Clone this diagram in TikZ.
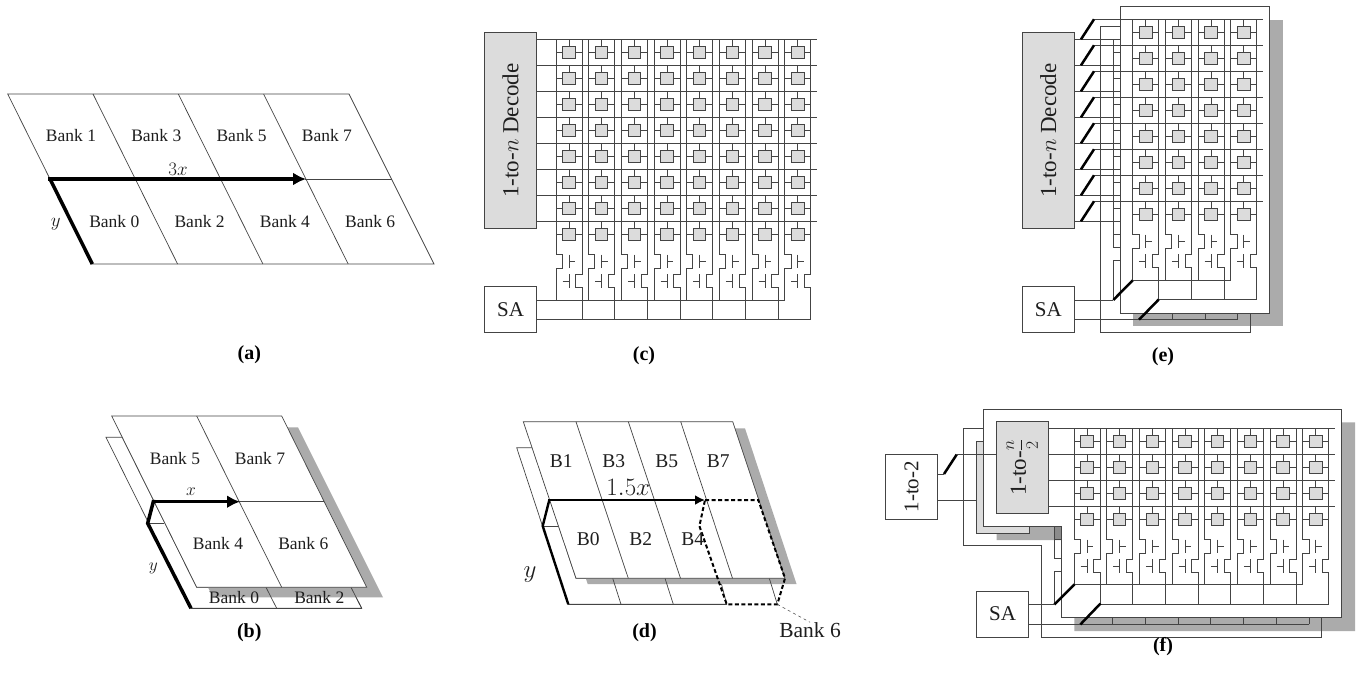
\documentclass[tikz,border=0pt]{standalone}
\usepackage{fix-cm}
\usepackage{fontspec}
\setmainfont{Liberation Serif}
\usetikzlibrary{arrows.meta}
\definecolor{wirec}{HTML}{444444}
\definecolor{shadowc}{HTML}{ABABAB}
\definecolor{darkshadow}{HTML}{8C8C8C}
\definecolor{cellc}{HTML}{DCDCDC}
\definecolor{textc}{HTML}{1E1E1E}
\tikzset{
  wire/.style={draw=wirec,line width=1pt},
  thinwire/.style={draw=wirec,line width=0.7pt},
  slash/.style={draw=black,line width=2.5pt},
  shadowfill/.style={fill=shadowc,draw=none},
  platefill/.style={fill=white,draw=wirec,line width=1pt},
  cellbox/.style={draw=wirec,fill=cellc,line width=1pt,inner sep=0pt,minimum width=12.6pt,minimum height=12.3pt},
  decbox/.style={draw=wirec,fill=cellc,line width=1pt,inner sep=0pt,text=textc,font=\fontsize{23}{25}\selectfont},
  whitebox/.style={draw=wirec,fill=white,line width=1pt,inner sep=0pt,text=textc,font=\fontsize{21}{24}\selectfont},
  banklab/.style={inner sep=0pt,text=textc,font=\fontsize{17.5}{20}\selectfont},
  mathlab/.style={inner sep=0pt,text=textc,font=\fontsize{19}{22}\selectfont},
  blab/.style={inner sep=0pt,text=textc,font=\fontsize{19.5}{22}\selectfont},
  biglab/.style={inner sep=0pt,text=textc,font=\fontsize{21.5}{24}\selectfont},
  hugelab/.style={inner sep=0pt,text=textc,font=\fontsize{25}{28}\selectfont},
  caplab/.style={inner sep=0pt,text=black,font=\fontsize{20}{22}\selectfont\bfseries},
  thickline/.style={draw=black,line width=3.5pt,line join=miter},
  thickarrow/.style={draw=black,line width=3.5pt,-{Latex[length=13pt,width=13pt]}},
  medline/.style={draw=black,line width=2.4pt},
  medarrow/.style={draw=black,line width=2.4pt,-{Latex[length=10pt,width=10pt]}},
  bankdash/.style={draw=black,line width=2pt,dash pattern=on 4pt off 2.5pt},
  leader/.style={draw=wirec,line width=0.5pt,dash pattern=on 3pt off 3pt},
}
% #1 prefix, #2 x of first left bitline, #3 y of first wordline, #4 columns, #5 rows
\newcommand{\cellarray}[5]{%
  \pgfmathsetmacro\lastcy{#3+13+26*(#5-1)}%
  \pgfmathtruncatemacro\lastcol{#4-1}%
  \pgfmathtruncatemacro\lastrow{#5-1}%
  \foreach \ci in {0,...,\lastcol}{%
    \pgfmathsetmacro\myX{#2+32.67*\ci}%
    \pgfmathsetmacro\myA{\myX+6.3}%
    \pgfmathsetmacro\myB{\myX+13}%
    \pgfmathsetmacro\myC{\myX+19.7}%
    \pgfmathsetmacro\myD{\myX+26}%
    \draw[wire] (\myX,#3) -- (\myX,\lastcy+20) -- (\myA,\lastcy+20) -- (\myA,\lastcy+34) -- (\myX,\lastcy+34) -- (\myX,\lastcy+66);
    \draw[wire] (\myD,#3) -- (\myD,\lastcy+40) -- (\myC,\lastcy+40) -- (\myC,\lastcy+53.5) -- (\myD,\lastcy+53.5) -- (\myD,\lastcy+85.4);
    \draw[wire] (\myB,\lastcy+20.3) -- (\myB,\lastcy+34);
    \draw[wire] (\myB,\lastcy+27) -- (\myC-0.3,\lastcy+27);
    \draw[wire] (\myB,\lastcy+40) -- (\myB,\lastcy+54);
    \draw[wire] (\myA+0.3,\lastcy+47) -- (\myB,\lastcy+47);
    \foreach \cj in {0,...,\lastrow}{%
      \pgfmathsetmacro\myY{#3+13+26*\cj}%
      \node[cellbox] (#1-\ci-\cj) at (\myB,\myY) {};
      \draw[wire] (\myX,\myY) -- (#1-\ci-\cj.west);
      \draw[wire] (#1-\ci-\cj.east) -- (\myD,\myY);
      \draw[wire] (\myB,\myY-13) -- (#1-\ci-\cj.north);
    }%
  }%
}
\begin{document}
\begin{tikzpicture}[x=1pt,y=-1pt]
\useasboundingbox (0,0) rectangle (1359,681);
\fill[white] (0,0) rectangle (1359,681);

%% ---------- (a)
\draw[thinwire] (7.7,94) -- (349,94) -- (434,264) -- (92.3,264) -- cycle;
\foreach \i in {1,2,3}{\draw[thinwire] (7.7+85.3*\i,94) -- (92.3+85.3*\i,264);}
\draw[thinwire] (305,179) -- (391.7,179);
\coordinate (a-o) at (50,179);
\coordinate (a-y) at (92.3,264);
\coordinate (a-x) at (306,179);
\draw[thickline] (a-y) -- (a-o);
\draw[thickarrow] ([xshift=-1.7pt]a-o) -- (a-x);
\node[banklab] (a1) at (71,136) {Bank 1};
\node[banklab] (a3) at (156.3,136) {Bank 3};
\node[banklab] (a5) at (241.6,136) {Bank 5};
\node[banklab] (a7) at (326.9,136) {Bank 7};
\node[banklab] (a0) at (114.3,221.7) {Bank 0};
\node[banklab] (a2) at (199.6,221.7) {Bank 2};
\node[banklab] (a4) at (284.9,221.7) {Bank 4};
\node[banklab] (a6) at (370.2,221.7) {Bank 6};
\node[mathlab] (a3x) at (178,169) {$3x$};
\node[mathlab] (ay) at (55.7,224) {$y$};
\node[caplab] (capa) at (249.3,355) {(a)};

%% ---------- (b)
\draw[thinwire,fill=white] (106,437.3) -- (191,608.3) -- (361.7,608.3) -- (351,587.3) -- (196.7,587.3) -- (122.3,437.3) -- cycle;
\fill[shadowfill] (128,427.3) -- (298,427.3) -- (383,597.3) -- (213,597.3) -- cycle;
\draw[thinwire] (266,587.3) -- (276.7,608.3);
\draw[thinwire] (351,587.3) -- (361.7,608.3);
\draw[thinwire] (191,608.3) -- (361.7,608.3);
\draw[thinwire,fill=white] (111.7,416) -- (281.7,416) -- (366.7,587.3) -- (196.7,587.3) -- cycle;
\draw[thinwire] (196.7,416) -- (281.7,587.3);
\draw[thinwire] (239.3,501.7) -- (324.3,501.7);
\draw[thinwire] (147.3,523.3) -- (164,523.3);
\coordinate (b-y) at (191,608.3);
\coordinate (b-k) at (147.7,523.3);
\coordinate (b-o) at (153.3,501.7);
\coordinate (b-x) at (240,501.7);
\draw[thickline] (b-y) -- (b-k) -- (b-o) -- ([xshift=2pt]b-o);
\draw[thickarrow] ([xshift=-1pt]b-o) -- (b-x);
\node[banklab] (b5) at (175,459) {Bank 5};
\node[banklab] (b7) at (260,459) {Bank 7};
\node[banklab] (b4) at (218,544) {Bank 4};
\node[banklab] (b6) at (303.3,544) {Bank 6};
\node[banklab] (b0) at (234,597.3) {Bank 0};
\node[banklab] (b2) at (319.3,597.3) {Bank 2};
\node[banklab] (bx) at (191,492) {$x$};
\node[banklab] (by) at (153.3,568.3) {$y$};
\node[caplab] (capb) at (249.3,633) {(b)};

%% ---------- (c)
\node[decbox,minimum width=52.2pt,minimum height=195.6pt] (cdec) at (510.6,130.5) {\rotatebox{90}{1-to-$n$ Decode}};
\node[whitebox,minimum width=52.2pt,minimum height=45.6pt] (csa) at (510.6,309.5) {SA};
\foreach \k in {0,...,7}{
  \pgfmathsetmacro\myY{39.3+26*\k}
  \draw[wire] (cdec.east |- 0,\myY) -- (816.7,\myY);
}
\cellarray{cc}{556}{39.3}{8}{8}
\draw[wire] (csa.east |- 0,300) -- (784.5,300);
\draw[wire] (csa.east |- 0,319.4) -- (810.7,319.4);
\node[caplab] (capc) at (644,356) {(c)};

%% ---------- (d)
\draw[thinwire,fill=white] (516.7,447.7) -- (568.3,604.3) -- (726.7,604.3) -- (720,578.3) -- (576,578.3) -- (532.7,447.7) -- cycle;
\fill[shadowfill] (535.5,428.3) -- (745,428.3) -- (796.5,584) -- (587.7,584) -- cycle;
\draw[thinwire] (568.3,604.3) -- (726.7,604.3);
\draw[thinwire] (612.7,578.3) -- (621,604.3);
\draw[thinwire] (665,578.3) -- (673.3,604.3);
\draw[thinwire] (769.3,578.3) -- (777.3,604.3);
\draw[thinwire,fill=white] (523.3,421.7) -- (732.7,421.7) -- (785,578.3) -- (576,578.3) -- cycle;
\draw[thinwire] (576,421.7) -- (628.3,578.3);
\draw[thinwire] (628.3,421.7) -- (680.5,578.3);
\draw[thinwire] (680.7,421.7) -- (732.5,578.3);
\draw[thinwire] (542.7,526) -- (558.3,526);
\coordinate (d-y) at (568.3,604.3);
\coordinate (d-k) at (542.7,526);
\coordinate (d-o) at (549.3,500);
\coordinate (d-x) at (705,500);
\coordinate (d-r) at (758.3,500);
\coordinate (d-s) at (785,578.3);
\coordinate (d-t) at (777.3,604.3);
\coordinate (d-u) at (726.7,604.3);
\coordinate (d-v) at (699.4,526);
\draw[medline] (d-y) -- (d-k) -- (d-o);
\draw[medarrow] ([xshift=-1pt]d-o) -- (d-x);
\draw[bankdash] (d-x) -- (d-r) -- (d-s) -- (d-t) -- (d-u) -- (d-v) -- cycle;
\node[blab] (d1) at (561.3,461) {B1};
\node[blab] (d3) at (613.7,461) {B3};
\node[blab] (d5) at (666.7,461) {B5};
\node[blab] (d7) at (718.3,461) {B7};
\node[blab] (d0) at (588.3,539.3) {B0};
\node[blab] (d2) at (640.7,539.3) {B2};
\node[blab] (d4) at (692.7,539.3) {B4};
\node[hugelab] (d15) at (628.3,487.3) {$1.5x$};
\node[hugelab] (dy) at (530,575) {$y$};
\node[biglab] (dbank) at (810,630) {Bank 6};
\draw[leader] (d-t) -- (dbank.north);
\node[caplab] (capd) at (644.5,633) {(d)};

%% ---------- (e)
\fill[shadowfill] (1133.3,20) rectangle (1282.7,326);
\draw[wire] (1120,26.7) -- (1100.3,26.7) -- (1100.3,332.7) -- (1250,332.7) -- (1250,313);
\draw[wire] (1113.3,39.3) -- (1113.3,247.7) -- (1120,247.7);
\draw[wire] (1120,260.7) -- (1113.3,260.7) -- (1113.3,300);
\foreach \k in {0,...,7}{
  \pgfmathsetmacro\myY{52.3+26*\k}
  \draw[wire] (1113.3,\myY) -- (1120,\myY);
}
\draw[wire] (1139,319.5) -- (1237.5,319.5);
\foreach \k in {1,2,3}{
  \pgfmathsetmacro\myX{1139.7+32.67*\k}
  \draw[wire] (\myX,319.5) -- (\myX,313);
}
\node[platefill,minimum width=149.4pt,minimum height=306.6pt,inner sep=0pt] (eplate) at (1194.7,160) {};
\node[decbox,minimum width=52pt,minimum height=195.6pt] (edec) at (1048.3,130.5) {\rotatebox{90}{1-to-$n$ Decode}};
\node[whitebox,minimum width=52pt,minimum height=46pt] (esa) at (1048.3,309.7) {SA};
\cellarray{ee}{1132.7}{19.3}{4}{8}
\foreach \k in {0,...,7}{
  \pgfmathsetmacro\myY{19.3+26*\k}
  \pgfmathsetmacro\myZ{39.3+26*\k}
  \draw[wire] (edec.east |- 0,\myZ) -- (eplate.west |- 0,\myZ);
  \draw[wire] (1094,\myY) -- (1262.7,\myY);
  \draw[slash] (1081,\myZ) -- (1094,\myY);
}
\draw[wire] (esa.east |- 0,300) -- (1113.3,300);
\draw[wire] (esa.east |- 0,319.5) -- (1139,319.5);
\draw[wire] (1132.7,280.3) -- (1230.7,280.3);
\draw[wire] (1158.7,299.7) -- (1257,299.7);
\draw[slash] (1113.3,300) -- (1132.7,280.3);
\draw[slash] (1139,319.7) -- (1158.7,299.5);
\node[caplab] (cape) at (1163,357) {(e)};

%% ---------- (f)
\fill[shadowfill] (996.6,422.3) -- (1355,422.3) -- (1355,631) -- (1074.3,631) -- (1074.3,540) -- (996.6,540) -- cycle;
\fill[darkshadow] (1054.3,526.7) rectangle (1061,539.5);
\node[decbox,minimum width=52.3pt,minimum height=91.7pt] (fbdec) at (1002.9,487.2) {};
\draw[wire] (983.3,428.3) -- (963.3,428.3) -- (963.3,545.7) -- (1041.7,545.7) -- (1041.7,637.3) -- (1321.7,637.3) -- (1321.7,617.7);
\draw[wire] (1054.3,526.7) -- (1054.3,558.7) -- (1061,558.7);
\draw[wire] (1061,571.7) -- (1054.3,571.7) -- (1054.3,604.3);
\draw[wire] (1054.3,539.3) -- (1061,539.3);
\draw[wire] (1080.5,624.3) -- (1308.7,624.3);
\foreach \k in {1,...,7}{
  \pgfmathsetmacro\myX{1080.3+32.67*\k}
  \draw[wire] (\myX,624.3) -- (\myX,617.7);
}
\draw[platefill] (983.3,409) -- (1341.7,409) -- (1341.7,617.7) -- (1061,617.7) -- (1061,526.7) -- (983.3,526.7) -- cycle;
\node[decbox,minimum width=52.3pt,minimum height=91.7pt] (fdec) at (1022.2,467.5) {\rotatebox{90}{1-to-\scalebox{.76}{$\displaystyle\frac{n}{2}$}}};
\node[whitebox,minimum width=52.7pt,minimum height=65pt] (f12) at (911.4,486.8) {\rotatebox{90}{1-to-2}};
\node[whitebox,minimum width=51.7pt,minimum height=46pt] (fsa) at (1002.5,614) {SA};
\cellarray{ff}{1074}{428.3}{8}{4}
\foreach \k in {0,...,3}{
  \pgfmathsetmacro\myY{428.3+26*\k}
  \draw[wire] (fdec.east |- 0,\myY) -- (1335,\myY);
}
\draw[wire] (f12.east |- 0,474) -- (944,474);
\draw[wire] (956.7,454.5) -- (fdec.west |- 0,454.5);
\draw[wire] (f12.east |- 0,500) -- (fbdec.west |- 0,500);
\draw[slash] (944,474) -- (956.7,454.5);
\draw[wire] (fsa.east |- 0,604.5) -- (1054.3,604.5);
\draw[wire] (fsa.east |- 0,624.3) -- (1080.5,624.3);
\draw[wire] (1074,584.6) -- (1302.6,584.6);
\draw[wire] (1100,604) -- (1328.7,604);
\draw[slash] (1054.3,604.5) -- (1074.5,584.3);
\draw[slash] (1080.3,624.5) -- (1100.5,603.5);
\node[caplab] (capf) at (1163,647) {(f)};
\end{tikzpicture}
\end{document}
